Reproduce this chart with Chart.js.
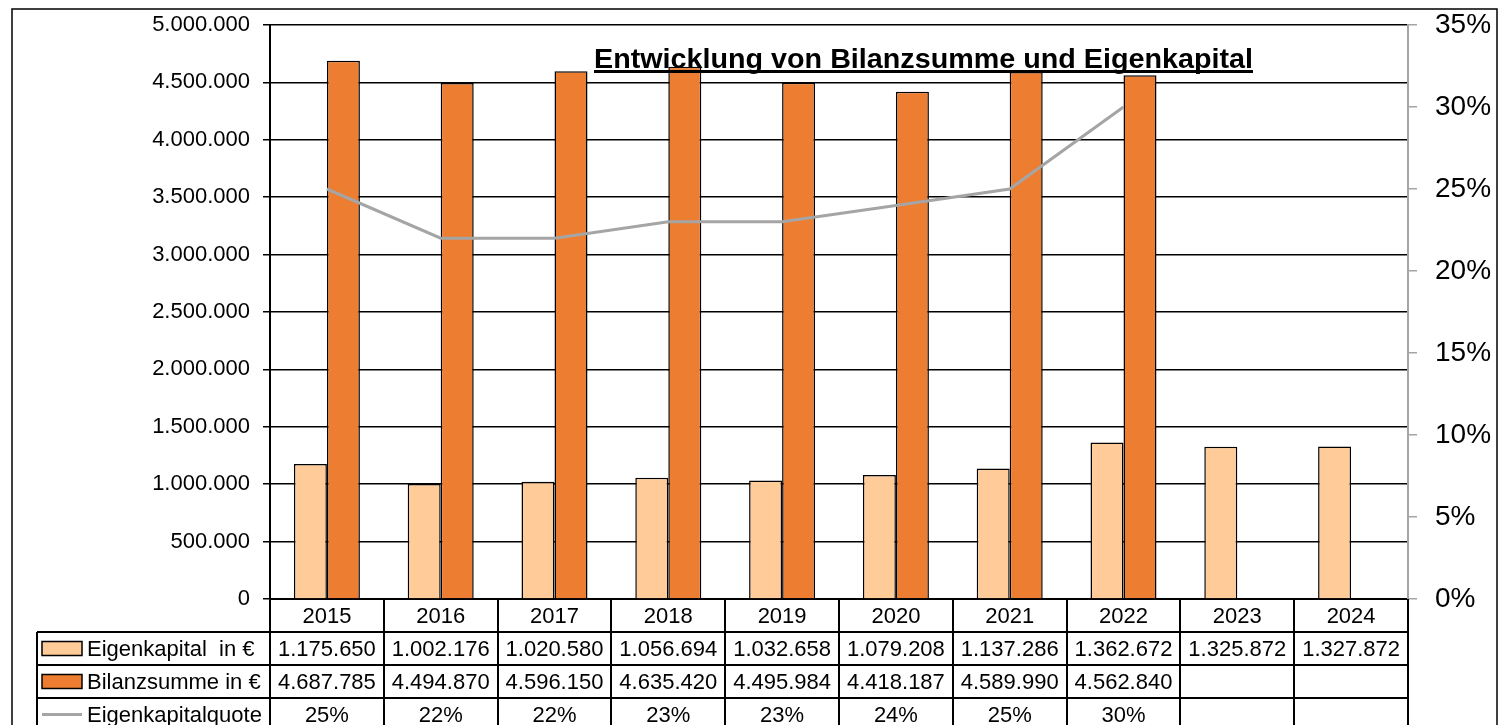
<!DOCTYPE html>
<html>
<head>
<meta charset="utf-8">
<script src="https://cdn.jsdelivr.net/npm/chart.js@4"></script>
<style>
  html, body { margin: 0; padding: 0; background: #fff; }
  #wrap { width: 1499px; height: 725px; }
</style>
</head>
<body>
<div id="wrap"><canvas id="myChart" width="1499" height="725"></canvas></div>
<script>
const categories = ["2015", "2016", "2017", "2018", "2019", "2020", "2021", "2022", "2023", "2024"];
const eigenkapital = [1175650, 1002176, 1020580, 1056694, 1032658, 1079208, 1137286, 1362672, 1325872, 1327872];
const bilanzsumme = [4687785, 4494870, 4596150, 4635420, 4495984, 4418187, 4589990, 4562840, null, null];
const quote = [25, 22, 22, 23, 23, 24, 25, 30, null, null];
const seriesNames = ["Eigenkapital  in €", "Bilanzsumme in €", "Eigenkapitalquote"];
const title = "Entwicklung von Bilanzsumme und Eigenkapital";

const FONT = '"Liberation Sans", Arial, sans-serif';
const light = "#FFCC99";
const dark = "#ED7D31";
const grey = "#A5A5A5";

function fmt(v) {
  if (v === null || v === undefined) return "";
  return String(Math.round(v)).replace(/\B(?=(\d{3})+(?!\d))/g, ".");
}

const tablePlugin = {
  id: "tablePlugin",
  beforeDraw(chart) {
    const c = chart.ctx;
    c.save();
    c.fillStyle = "#fff";
    c.fillRect(0, 0, chart.width, chart.height);
    c.restore();
  },
  afterDraw(chart) {
    const c = chart.ctx;
    const x = chart.scales.x;
    const area = chart.chartArea;
    const step = (area.right - area.left) / categories.length;
    const top = area.bottom;
    const rowH = 33;
    const legL = 37;

    c.save();
    // outer frame
    c.strokeStyle = "#000";
    c.lineWidth = 1.5;
    c.strokeRect(12, 9, 1485, 800);

    // table lines
    c.lineWidth = 2;
    c.beginPath();
    for (let r = 1; r <= 3; r++) {
      const y = top + r * rowH;
      c.moveTo(legL, y);
      c.lineTo(area.right, y);
    }
    c.moveTo(legL, top + rowH);
    c.lineTo(legL, top + 5 * rowH);
    for (let i = 0; i <= categories.length; i++) {
      const xx = Math.round(area.left + i * step);
      c.moveTo(xx, top);
      c.lineTo(xx, top + 5 * rowH);
    }
    c.stroke();

    // header and values
    c.fillStyle = "#000";
    c.font = "22px " + FONT;
    c.textAlign = "center";
    c.textBaseline = "middle";
    const rows = [
      eigenkapital.map(fmt),
      bilanzsumme.map(fmt),
      quote.map(v => (v === null ? "" : v + "%"))
    ];
    categories.forEach((cat, i) => {
      const cx = x.getPixelForValue(i);
      c.fillText(cat, cx, top + rowH / 2 + 1);
      rows.forEach((row, r) => {
        c.fillText(row[i], cx, top + (r + 1) * rowH + rowH / 2 + 1);
      });
    });

    // legend keys
    c.textAlign = "left";
    seriesNames.forEach((name, r) => {
      const cy = top + (r + 1) * rowH + rowH / 2;
      if (r < 2) {
        c.fillStyle = r === 0 ? light : dark;
        c.fillRect(42, cy - 7, 40, 14);
        c.lineWidth = 1.5;
        c.strokeStyle = "#000";
        c.strokeRect(42, cy - 7, 40, 14);
      } else {
        c.strokeStyle = grey;
        c.lineWidth = 3;
        c.beginPath();
        c.moveTo(42, cy);
        c.lineTo(82, cy);
        c.stroke();
      }
      c.fillStyle = "#000";
      c.fillText(name, 87, cy + 1);
    });

    // title
    c.font = "bold 27px " + FONT;
    const w = c.measureText(title).width;
    const target = 659;
    const sx = target / w;
    c.save();
    c.translate(594, 68);
    c.scale(sx, 1);
    c.textBaseline = "alphabetic";
    c.fillText(title, 0, 0);
    c.restore();
    c.fillRect(594, 70, target, 3);
    c.restore();
  }
};

function noVPad(s) {
  s.paddingTop = 0;
  s.paddingBottom = 0;
}

new Chart(document.getElementById("myChart").getContext("2d"), {
  data: {
    labels: categories,
    datasets: [
      {
        type: "line",
        label: seriesNames[2],
        data: quote,
        yAxisID: "y1",
        borderColor: grey,
        borderWidth: 3,
        pointRadius: 0,
        spanGaps: false,
        order: 0
      },
      {
        type: "bar",
        label: seriesNames[0],
        data: eigenkapital,
        yAxisID: "y",
        backgroundColor: light,
        borderColor: "#000",
        borderWidth: 1.5,
        categoryPercentage: 0.58,
        barPercentage: 1,
        order: 1
      },
      {
        type: "bar",
        label: seriesNames[1],
        data: bilanzsumme,
        yAxisID: "y",
        backgroundColor: dark,
        borderColor: "#000",
        borderWidth: 1.5,
        categoryPercentage: 0.58,
        barPercentage: 1,
        order: 1
      }
    ]
  },
  options: {
    responsive: false,
    animation: false,
    layout: { padding: { top: 25, left: 0, right: 0, bottom: 0 } },
    plugins: {
      legend: { display: false },
      tooltip: { enabled: false },
      title: { display: false }
    },
    scales: {
      x: {
        grid: { display: false },
        border: { display: true, color: "#000", width: 2 },
        ticks: { display: false },
        afterFit(s) { s.height = 126; s.paddingLeft = 0; s.paddingRight = 0; }
      },
      y: {
        position: "left",
        min: 0,
        max: 5000000,
        ticks: {
          stepSize: 500000,
          color: "#000",
          font: { family: FONT, size: 22 },
          padding: 13,
          callback: v => fmt(v)
        },
        grid: { color: "#000", lineWidth: 1.5, tickLength: 7 },
        border: { display: true, color: "#000", width: 2 },
        afterFit(s) { s.width = 270; noVPad(s); }
      },
      y1: {
        position: "right",
        min: 0,
        max: 35,
        ticks: {
          stepSize: 5,
          color: "#000",
          font: { family: FONT, size: 28 },
          padding: 18,
          callback: v => v + "%"
        },
        grid: { drawOnChartArea: false, color: grey, lineWidth: 1.5, tickLength: 9 },
        border: { display: true, color: grey, width: 2 },
        afterFit(s) { s.width = 91; noVPad(s); }
      }
    }
  },
  plugins: [tablePlugin]
});
</script>
</body>
</html>
